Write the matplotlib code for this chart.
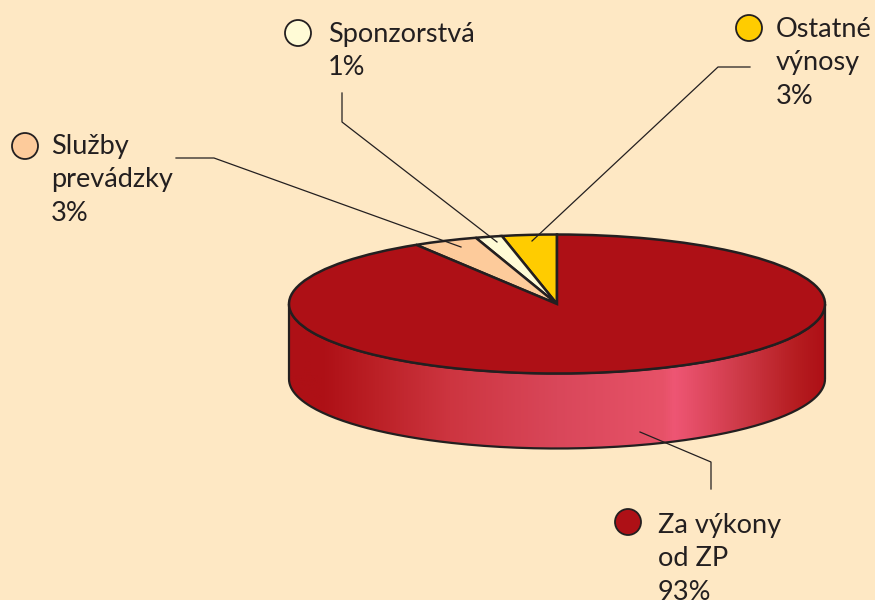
import numpy as np
import matplotlib
matplotlib.use('Agg')
import matplotlib.pyplot as plt
from matplotlib.colors import LinearSegmentedColormap
from matplotlib.patches import PathPatch, Circle
from matplotlib.path import Path

plt.rcParams['font.family'] = ['Lato', 'DejaVu Sans']

W, H = 875, 600
bg = '#fee8c4'
dark = '#231f20'

categories = ['Ostatné\nvýnosy', 'Sponzorstvá', 'Služby\nprevádzky', 'Za výkony\nod ZP']
percent_labels = ['3%', '1%', '3%', '93%']
# slice sizes as drawn, the tilted view makes the small ones look wider than the labels
slice_sizes = [3.3, 1.6, 3.9, 91.2]
colors = ['#ffcc00', '#fffbd6', '#fdcb9b', '#ae1016']

cx, cy, rx, ry, depth = 557, 304, 268, 69.5, 75

fig = plt.figure(figsize=(W / 100, H / 100), dpi=100, facecolor=bg)

# page axes in pixels, y going down
page = fig.add_axes([0, 0, 1, 1])
page.set_xlim(0, W)
page.set_ylim(H, 0)
page.axis('off')

# side of the cylinder with horizontal gradient
t = np.linspace(0, np.pi, 200)
xs = cx + rx * np.cos(t)
front = cy + ry * np.sin(t)
verts = list(zip(xs, front + depth)) + list(zip(xs[::-1], front[::-1]))
side = PathPatch(Path(verts + [verts[0]]), fc='none', ec=dark, lw=1.6, zorder=3)
page.add_patch(side)
stops = [(0, '#ae1016'), (0.06, '#ae1016'), (0.16, '#bb2026'), (0.3, '#cd3540'),
         (0.5, '#d9475a'), (0.7, '#e75268'), (0.72, '#ee5674'), (0.85, '#cc3845'),
         (0.95, '#b51c20'), (1, '#ae1016')]
cmap = LinearSegmentedColormap.from_list('side', stops)
im = page.imshow(np.linspace(0, 1, 512).reshape(1, -1), cmap=cmap, aspect='auto',
                 extent=(cx - rx, cx + rx, cy + ry + depth, cy), zorder=2)
im.set_clip_path(PathPatch(Path(verts + [verts[0]]), transform=page.transData))
page.set_xlim(0, W)
page.set_ylim(H, 0)

# top of the pie, a circle squashed by the axes shape
pie_ax = fig.add_axes([(cx - rx) / W, 1 - (cy + ry) / H, 2 * rx / W, 2 * ry / H])
pie_ax.patch.set_alpha(0)
pie_ax.pie(slice_sizes, colors=colors, startangle=90, counterclock=True, radius=1,
           wedgeprops={'edgecolor': dark, 'linewidth': 1.8, 'clip_on': False})
pie_ax.set_aspect('auto')
pie_ax.set_xlim(-1, 1)
pie_ax.set_ylim(-1, 1)

# overlay for leaders and labels
over = fig.add_axes([0, 0, 1, 1])
over.set_xlim(0, W)
over.set_ylim(H, 0)
over.axis('off')
over.patch.set_alpha(0)

leaders = [
    ([750, 718, 532], [67, 67, 241]),
    ([342, 342, 497], [93, 122, 242]),
    ([176, 214, 461], [158, 158, 247]),
    ([711, 711, 640], [489, 462, 432]),
]
for lx, ly in leaders:
    over.plot(lx, ly, color=dark, lw=0.9)

markers = [(749, 28), (298, 33), (25, 146), (628, 522)]
text_pos = [(776, 17), (328, 22), (51, 134), (658, 513)]
for (mx, my), (tx, ty), c, name, pct in zip(markers, text_pos, colors, categories, percent_labels):
    over.add_patch(Circle((mx, my), 13, fc=c, ec=dark, lw=1.3, clip_on=False))
    over.text(tx, ty, name + '\n' + pct, fontsize=19.5, color=dark, va='top', ha='left',
              linespacing=1.42, clip_on=True)

fig.savefig('out.png', dpi=100, facecolor=bg)
